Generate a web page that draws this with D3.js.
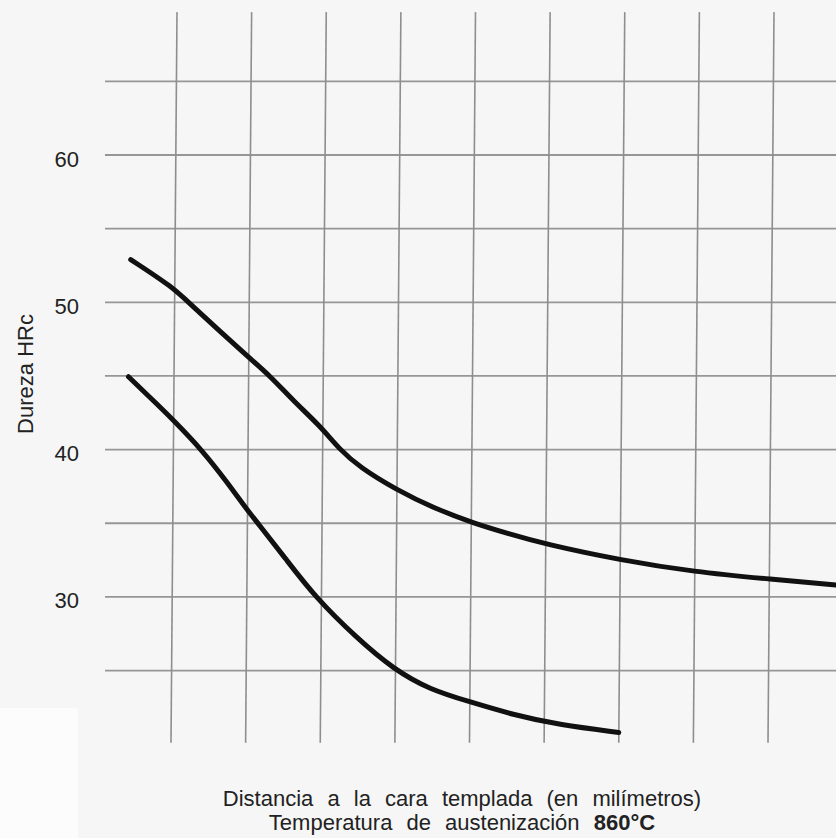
<!DOCTYPE html>
<html>
<head>
<meta charset="utf-8">
<script src="https://cdn.jsdelivr.net/npm/d3@7"></script>
<style>
  html, body { margin: 0; padding: 0; background: #f6f6f6; }
  svg { display: block; }
  text { font-family: "Liberation Sans", Arial, sans-serif; fill: #222; }
</style>
</head>
<body>
<div id="chart"></div>
<script>
// grid positions (no labels on the distance axis)
const xGrid = [1, 2, 3, 4, 5, 6, 7, 8, 9]
const yGrid = [25, 30, 35, 40, 45, 50, 55, 60, 65]
const yLabels = [30, 40, 50, 60]

// curve: x = grid position, y = HRc
const upperX = [0.42, 0.99, 1.19, 1.99, 2.29, 2.60, 2.96, 3.22, 3.49, 3.97, 4.49, 5.02, 5.48, 5.96, 6.98, 7.97, 8.99, 10.0]
const upperY = [52.9, 51.0, 50.0, 46.3, 45.0, 43.3, 41.6, 40.0, 38.8, 37.3, 36.0, 35.0, 34.3, 33.6, 32.5, 31.7, 31.2, 30.75]

const lowerX = [0.39, 0.81, 0.99, 1.37, 1.71, 1.98, 2.11, 2.51, 2.89, 3.45, 3.94, 4.43, 4.95, 5.54, 6.17, 6.96]
const lowerY = [44.95, 42.9, 42.0, 40.0, 37.8, 35.9, 35.1, 32.5, 30.0, 27.2, 25.1, 23.7, 22.9, 22.0, 21.3, 20.8]

const width = 836, height = 838
const skew = 3 // the scanned vertical lines lean a little

const x = d3.scaleLinear().domain([1, 9]).range([174, 771])
const y = d3.scaleLinear().domain([20, 70]).range([744.2, 7.7])

const svg = d3.select('#chart').append('svg')
  .attr('width', width)
  .attr('height', height)

svg.append('rect').attr('width', width).attr('height', height).attr('fill', '#f6f6f6')
svg.append('rect').attr('x', 0).attr('y', 708).attr('width', 78).attr('height', 130).attr('fill', '#fcfcfc')

// horizontal grid
svg.append('g').selectAll('line')
  .data(yGrid)
  .enter().append('line')
  .attr('x1', 105)
  .attr('x2', width)
  .attr('y1', d => y(d))
  .attr('y2', d => y(d))
  .attr('stroke', '#969696')
  .attr('stroke-width', 1.8)

// vertical grid
svg.append('g').selectAll('line')
  .data(xGrid)
  .enter().append('line')
  .attr('x1', d => x(d) + skew)
  .attr('x2', d => x(d) - skew)
  .attr('y1', y(69.7))
  .attr('y2', y(20.1))
  .attr('stroke', '#8e8e8e')
  .attr('stroke-width', 1.6)

// y labels
svg.append('g').selectAll('text')
  .data(yLabels)
  .enter().append('text')
  .attr('x', 79)
  .attr('y', d => y(d) + 11.5)
  .attr('text-anchor', 'end')
  .attr('font-size', 22)
  .text(d => d)

svg.append('text')
  .attr('transform', 'translate(33,374) rotate(-90)')
  .attr('text-anchor', 'middle')
  .attr('font-size', 22)
  .text('Dureza HRc')

// curves
const line = d3.line()
  .x(d => x(d[0]))
  .y(d => y(d[1]))
  .curve(d3.curveBasis)

const curves = [d3.zip(upperX, upperY), d3.zip(lowerX, lowerY)]

svg.append('g').selectAll('path')
  .data(curves)
  .enter().append('path')
  .attr('d', line)
  .attr('fill', 'none')
  .attr('stroke', '#111')
  .attr('stroke-width', 5)
  .attr('stroke-linecap', 'round')
  .attr('stroke-linejoin', 'round')

// x titles
svg.append('text')
  .attr('x', 462)
  .attr('y', 806)
  .attr('text-anchor', 'middle')
  .attr('font-size', 22)
  .attr('word-spacing', 8)
  .text('Distancia a la cara templada (en milímetros)')

const t2 = svg.append('text')
  .attr('x', 462)
  .attr('y', 830)
  .attr('text-anchor', 'middle')
  .attr('font-size', 22)
  .attr('word-spacing', 8)
t2.append('tspan').text('Temperatura de austenización ')
t2.append('tspan').attr('font-weight', 'bold').text('860°C')
</script>
</body>
</html>
